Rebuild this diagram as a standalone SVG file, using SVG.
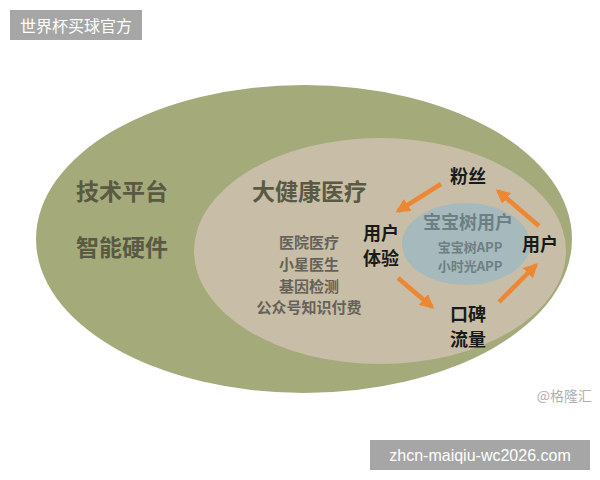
<svg xmlns="http://www.w3.org/2000/svg" width="600" height="480" viewBox="0 0 600 480">
<defs>
<style>
text{font-family:"Noto Sans CJK SC","Noto Sans",sans-serif;dominant-baseline:central}
.outer{font-size:23px;fill:#5a5944;font-weight:bold}
.inner{font-size:15px;fill:#66625a;font-weight:bold;text-anchor:middle}
.blk{font-size:18px;fill:#1a1a1a;font-weight:bold;text-anchor:middle}
.blue{fill:#6e7f84;text-anchor:middle;font-weight:bold}
.arr{stroke:#ee8734;stroke-width:4.5;fill:none;marker-end:url(#ah)}
</style>
<marker id="ah" viewBox="0 0 10 10" refX="8" refY="5" markerWidth="3.2" markerHeight="3.2" orient="auto" markerUnits="strokeWidth">
<path d="M0,0 L10,5 L0,10 z" fill="#ee8734"/>
</marker>
</defs>
<rect width="600" height="480" fill="#ffffff"/>
<g id="header">
<rect x="10" y="10" width="132" height="30" fill="#a6a6a6"/>
<text x="76" y="25" style="font-size:16px;fill:#ffffff;text-anchor:middle">世界杯买球官方</text>
</g>
<g id="outer-ellipse">
<ellipse cx="304" cy="239" rx="268" ry="154" fill="#a4aa79"/>
<text class="outer" x="76" y="190">技术平台</text>
<text class="outer" x="76" y="246">智能硬件</text>
</g>
<g id="health">
<ellipse cx="380" cy="251" rx="186" ry="113" fill="#c8bda6"/>
<text class="outer" x="252" y="190">大健康医疗</text>
<text class="inner" x="309" y="241">医院医疗</text>
<text class="inner" x="309" y="263">小星医生</text>
<text class="inner" x="309" y="285">基因检测</text>
<text class="inner" x="309" y="306">公众号知识付费</text>
</g>
<g id="babytree">
<ellipse cx="466" cy="244" rx="64" ry="41" fill="#a6b9bd"/>
<text class="blue" x="468" y="221" style="font-size:18px">宝宝树用户</text>
<text class="blue" x="470" y="246" style="font-size:13px">宝宝树APP</text>
<text class="blue" x="470" y="265" style="font-size:13px">小时光APP</text>
</g>
<g id="fans"><text class="blk" x="468" y="175">粉丝</text></g>
<g id="experience"><text class="blk" x="381" y="232">用户</text><text class="blk" x="381" y="257">体验</text></g>
<g id="user"><text class="blk" x="540" y="243">用户</text></g>
<g id="wom"><text class="blk" x="468" y="313">口碑</text><text class="blk" x="468" y="338">流量</text></g>
<g id="connectors">
<line class="arr" x1="441" y1="184" x2="398" y2="211"/>
<line class="arr" x1="398" y1="278" x2="432" y2="307"/>
<line class="arr" x1="499" y1="302" x2="536" y2="265"/>
<line class="arr" x1="539" y1="226" x2="498" y2="191"/>
</g>
<g id="watermark">
<text x="592" y="395" style="font-size:14px;fill:#b0b0b0;text-anchor:end">@格隆汇</text>
</g>
<g id="footer">
<rect x="370" y="440" width="220" height="30" fill="#a6a6a6"/>
<text x="480" y="455" style="font-family:'Liberation Sans',sans-serif;font-size:16px;fill:#ffffff;text-anchor:middle">zhcn-maiqiu-wc2026.com</text>
</g>
</svg>
